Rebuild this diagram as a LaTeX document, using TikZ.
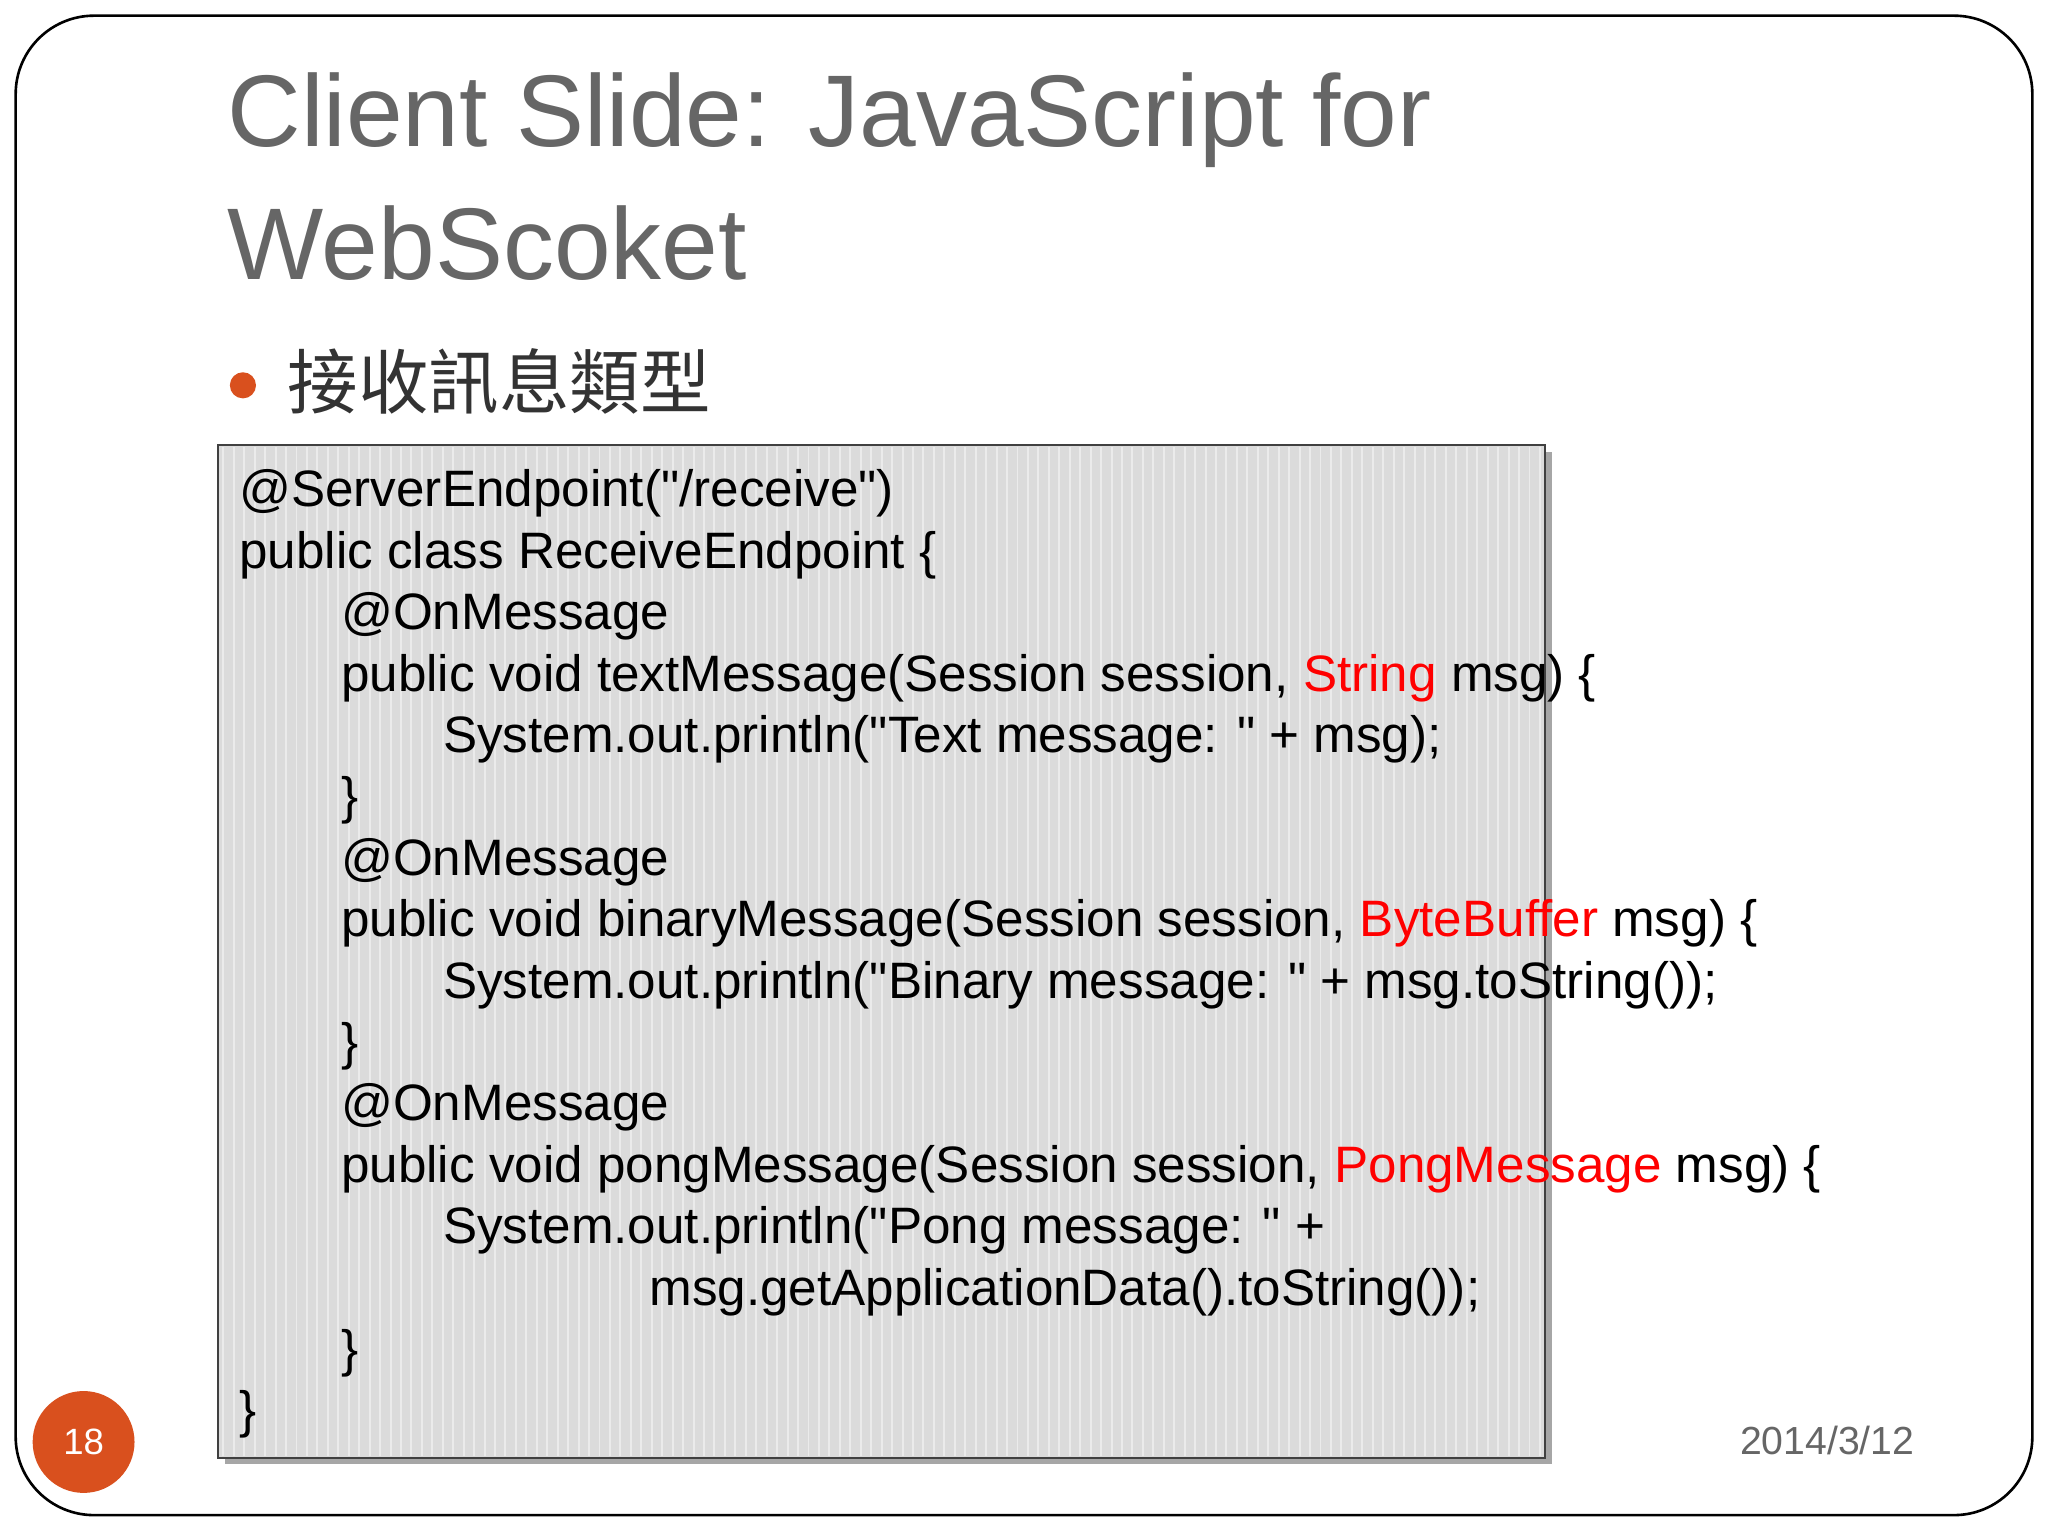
\documentclass[tikz,border=0pt]{standalone}
\usepackage{fontspec}
\setmainfont{Liberation Sans}
\newfontfamily\codefont{Liberation Sans}
\newfontfamily\cjk{Noto Sans CJK TC}
\definecolor{accent}{HTML}{D9501E}
\begin{document}
\begin{tikzpicture}[x=1pt,y=-1pt,
  code/.style={anchor=west,inner sep=0pt,font=\codefont\fontsize{39.2}{41}\selectfont}]
\useasboundingbox (0,0) rectangle (1568,1176);
\fill[white] (0,0) rectangle (1568,1176);
\draw[line width=2pt,rounded corners=60pt] (12,12) rectangle (1556,1160);
\node[anchor=west,inner sep=0pt,text=black!60,font=\fontsize{78}{90}\selectfont] (t1) at (174,92) {Client Slide: JavaScript for};
\node[anchor=west,inner sep=0pt,text=black!60,font=\fontsize{78}{90}\selectfont] (t2) at (174,186) {WebScoket};
\fill[accent] (186,295) circle (10);
\node[anchor=west,inner sep=0pt,font=\fontsize{54}{60}\cjk,text=black!80] (b) at (220,292) {接收訊息類型};
\fill[black!35] (172,346) rectangle (1188,1121);
\fill[black!14] (167,341) rectangle (1183,1116);
\foreach \x in {171,179,...,1180} \draw[white!80!black!40,line width=1.5pt] (\x,342) -- (\x,1115);
\draw[line width=1.5pt,black!75] (167,341) rectangle (1183,1116);
\node[code] (l1) at (183,378) {@ServerEndpoint("/receive")};
\node[code] (l2) at (183,425) {public class ReceiveEndpoint \{};
\node[code] (l3) at (261,472) {@OnMessage};
\node[code] (l4) at (261,519) {public void textMessage(Session session, \textcolor{red}{String} msg) \{};
\node[code] (l5) at (339,566) {System.out.println("Text message: " + msg);};
\node[code] (l6) at (261,613) {\}};
\node[code] (l7) at (261,660) {@OnMessage};
\node[code] (l8) at (261,707) {public void binaryMessage(Session session, \textcolor{red}{ByteBuffer} msg) \{};
\node[code] (l9) at (339,754) {System.out.println("Binary message: " + msg.toString());};
\node[code] (l10) at (261,801) {\}};
\node[code] (l11) at (261,848) {@OnMessage};
\node[code] (l12) at (261,895) {public void pongMessage(Session session, \textcolor{red}{PongMessage} msg) \{};
\node[code] (l13) at (339,942) {System.out.println("Pong message: " +};
\node[code] (l14) at (497,989) {msg.getApplicationData().toString());};
\node[code] (l15) at (261,1036) {\}};
\node[code] (l16) at (183,1083) {\}};
\fill[accent] (64,1104) circle (39);
\node[text=white,font=\fontsize{28}{30}\selectfont] (pg) at (64,1104) {18};
\node[text=black!60,font=\fontsize{30}{32}\selectfont] (dt) at (1399,1103) {2014/3/12};
\end{tikzpicture}
\end{document}
